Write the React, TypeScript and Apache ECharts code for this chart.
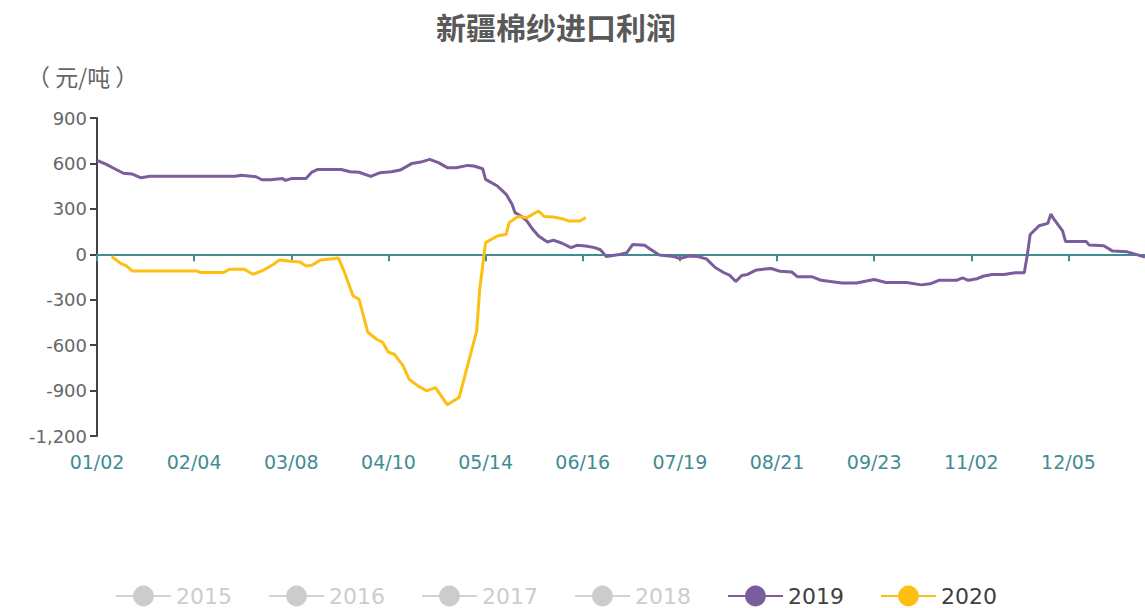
import React, { useEffect, useRef } from 'react';
import * as echarts from 'echarts';

// Category axis: daily dates of the year (holidays without quotes removed)
const skippedDays = ['05/01', '10/01', '10/02', '10/03', '10/04', '10/05', '10/06', '10/07'];
function buildCategories(): string[] {
  const out: string[] = [];
  const start = Date.UTC(2020, 0, 2);
  const end = Date.UTC(2020, 11, 31);
  for (let t = start; t <= end; t += 86400000) {
    const d = new Date(t);
    const mm = String(d.getUTCMonth() + 1).padStart(2, '0');
    const dd = String(d.getUTCDate()).padStart(2, '0');
    const s = mm + '/' + dd;
    if (skippedDays.indexOf(s) < 0) out.push(s);
  }
  return out;
}
const categories = buildCategories();

const legendNames = ['2015', '2016', '2017', '2018', '2019', '2020'];

const dates2019 = [
  '01/02', '01/05', '01/08', '01/11', '01/14', '01/17', '01/20', '02/18', '02/20', '02/25',
  '02/27', '03/01', '03/05', '03/06', '03/08', '03/13', '03/15', '03/17', '03/25', '03/28',
  '03/31', '04/04', '04/07', '04/11', '04/14', '04/18', '04/21', '04/24', '04/27', '04/30',
  '05/04', '05/08', '05/10', '05/13', '05/14', '05/18', '05/21', '05/23', '05/24', '05/26',
  '05/28', '05/30', '06/01', '06/04', '06/06', '06/09', '06/12', '06/14', '06/17', '06/20',
  '06/22', '06/24', '06/29', '07/01', '07/03', '07/07', '07/09', '07/12', '07/17', '07/19',
  '07/22', '07/25', '07/28', '07/31', '08/03', '08/05', '08/07', '08/09', '08/11', '08/14',
  '08/19', '08/22', '08/26', '08/28', '09/02', '09/05', '09/12', '09/17', '09/23', '09/27',
  '10/11', '10/16', '10/19', '10/22', '10/28', '10/30', '11/01', '11/04', '11/06', '11/09',
  '11/13', '11/17', '11/20', '11/21', '11/22', '11/25', '11/28', '11/29', '11/30', '12/03',
  '12/04', '12/11', '12/12', '12/17', '12/20', '12/25', '12/31'
];
const values2019 = [
  620, 595, 565, 535, 530, 505, 515, 515, 522, 512,
  492, 492, 500, 488, 500, 500, 543, 560, 560, 545,
  542, 515, 538, 545, 556, 600, 609, 627, 605, 572,
  572, 587, 583, 565, 495, 451, 396, 330, 275, 253,
  220, 165, 121, 81, 94, 73, 44, 59, 55, 44,
  30, -15, 0, 11, 65, 60, 33, -5, -15, -28,
  -11, -15, -30, -87, -122, -140, -180, -140, -133, -103,
  -94, -112, -117, -149, -149, -172, -190, -190, -167, -186,
  -186, -202, -195, -172, -172, -156, -172, -161, -145, -133,
  -133, -122, -122, -7, 131, 188, 204, 265, 234, 154,
  85, 85, 62, 57, 21, 16, -18
];

const dates2020 = [
  '01/07', '01/10', '01/12', '01/14', '02/05', '02/06', '02/14', '02/16', '02/21', '02/24',
  '02/27', '03/02', '03/04', '03/07', '03/11', '03/13', '03/15', '03/18', '03/22', '03/24',
  '03/26', '03/29', '03/31', '04/03', '04/06', '04/08', '04/10', '04/12', '04/15', '04/17',
  '04/20', '04/23', '04/26', '04/30', '05/05', '05/11', '05/12', '05/14', '05/18', '05/21',
  '05/22', '05/25', '05/28', '06/01', '06/03', '06/06', '06/09', '06/11', '06/15', '06/17'
];
const values2020 = [
  -15, -60, -77, -110, -110, -120, -120, -99, -99, -132,
  -110, -66, -37, -44, -51, -77, -73, -37, -30, -25,
  -115, -275, -297, -515, -561, -581, -647, -660, -737, -825,
  -869, -902, -880, -994, -946, -506, -231, 77, 121, 132,
  209, 249, 242, 286, 249, 246, 235, 220, 220, 242
];

const yMin = -1200;
const yMax = 900;
const yInterval = 300;

const colors = ['#c23531', '#2f4554', '#61a0a8', '#d48265', '#7b5c9c', '#fcbf12'];
const teal = '#3f8c93';

function pairs(d: string[], v: number[]) {
  return d.map((x, i) => [x, v[i]]);
}

export default function App() {
  const ref = useRef<HTMLDivElement>(null);
  useEffect(() => {
    document.body.style.margin = '0';
    if (!ref.current) return;
    const chart = echarts.init(ref.current, null, { renderer: 'svg' });
    const seriesData: Record<string, any[]> = {
      '2015': [],
      '2016': [],
      '2017': [],
      '2018': [],
      '2019': pairs(dates2019, values2019),
      '2020': pairs(dates2020, values2020),
    };
    chart.setOption({
      animation: false,
      color: colors,
      title: [
        {
          text: '新疆棉纱进口利润',
          left: 436,
          top: 11,
          padding: 0,
          textStyle: { fontFamily: 'Noto Sans CJK SC', fontSize: 30, fontWeight: 'bold', color: '#595959' },
        },
        {
          text: '（ 元/吨 ）',
          left: 27,
          top: 64,
          padding: 0,
          textStyle: { fontFamily: 'Noto Sans CJK SC', fontSize: 23, fontWeight: 'normal', color: '#666' },
        },
      ],
      legend: {
        data: legendNames,
        left: 110,
        top: 580,
        itemWidth: 55,
        itemHeight: 26,
        itemGap: 36,
        inactiveColor: '#ccc',
        selected: { '2015': false, '2016': false, '2017': false, '2018': false, '2019': true, '2020': true },
        textStyle: { fontFamily: 'DejaVu Sans', fontSize: 22, color: '#404040' },
      },
      grid: { left: 97, right: 0, top: 118, bottom: 172, containLabel: false },
      xAxis: [
        {
          type: 'category',
          data: categories,
          boundaryGap: false,
          position: 'bottom',
          axisLine: { show: false, onZero: false },
          axisTick: { show: false },
          axisLabel: {
            interval: 32,
            margin: 16,
            color: teal,
            fontFamily: 'DejaVu Sans',
            fontSize: 19,
          },
          splitLine: { show: false },
        },
        {
          type: 'category',
          data: categories,
          boundaryGap: false,
          position: 'top',
          axisLine: { show: true, onZero: true, lineStyle: { color: teal, width: 2 } },
          axisTick: { show: true, inside: true, interval: 32, length: 7, lineStyle: { color: teal, width: 2 } },
          axisLabel: { show: false },
          splitLine: { show: false },
        },
      ],
      yAxis: {
        type: 'value',
        min: yMin,
        max: yMax,
        interval: yInterval,
        axisLine: { show: true, onZero: false, lineStyle: { color: '#444', width: 2 } },
        axisTick: { show: true, length: 7, lineStyle: { color: '#444', width: 2 } },
        axisLabel: { color: '#666', fontFamily: 'DejaVu Sans', fontSize: 18, margin: 10 },
        splitLine: { show: false },
      },
      series: legendNames.map((n) => ({
        name: n,
        type: 'line',
        xAxisIndex: 0,
        data: seriesData[n],
        showSymbol: false,
        symbol: 'circle',
        lineStyle: { width: 3 },
      })),
    });
    return () => chart.dispose();
  }, []);
  return <div ref={ref} style={{ width: 1145, height: 608 }} />;
}
